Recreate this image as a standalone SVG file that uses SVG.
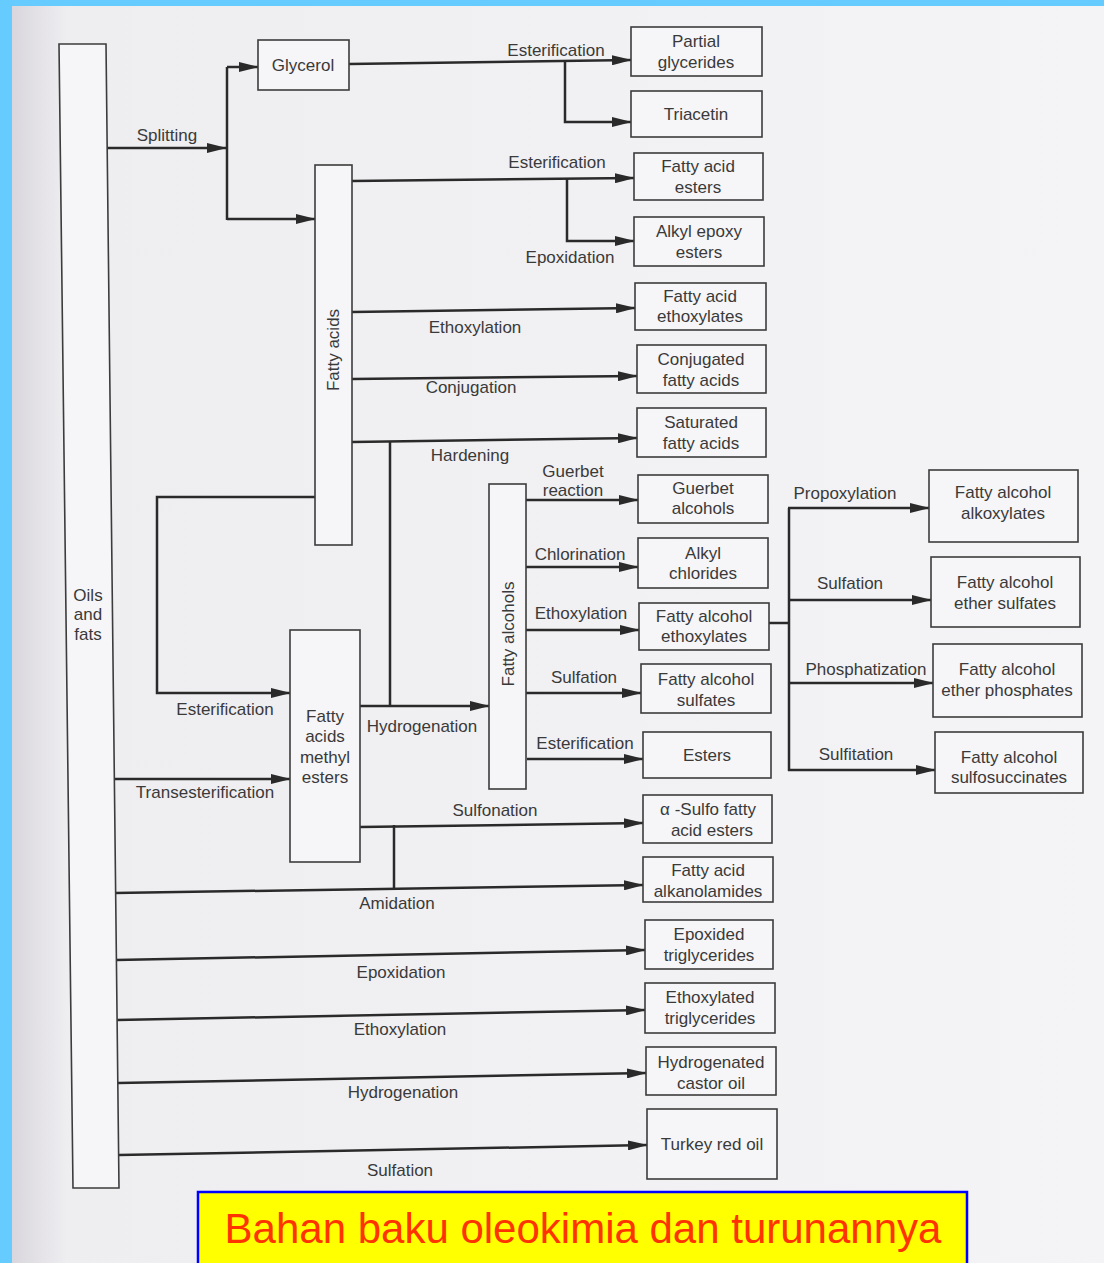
<svg xmlns="http://www.w3.org/2000/svg" width="1104" height="1263" viewBox="0 0 1104 1263">
<defs>
<linearGradient id="pg" x1="0" y1="0" x2="1" y2="0">
<stop offset="0" stop-color="#d9d7dd"/>
<stop offset="0.05" stop-color="#eeedf0"/>
<stop offset="1" stop-color="#f4f3f5"/>
</linearGradient>
<marker id="ah" markerWidth="20" markerHeight="10" refX="19" refY="5" orient="auto" markerUnits="userSpaceOnUse">
<path d="M0,0 L20,5 L0,10 Z" fill="#2a2a2a"/>
</marker>
<style>
.box{fill:#f6f5f7;stroke:#3c3c3c;stroke-width:1.6}
.t{font-family:"Liberation Sans",Arial,sans-serif;font-size:17px;fill:#3a3a3a;text-anchor:middle}
.c{fill:none;stroke:#2a2a2a;stroke-width:2.5}
.a{marker-end:url(#ah)}
</style>
</defs>
<rect x="0" y="0" width="1104" height="1263" fill="#66ccff"/>
<rect x="12" y="6" width="1092" height="1257" fill="url(#pg)"/>

<g id="connectors">
<path class="c a" d="M106,148 H226"/>
<path class="c" d="M227,67 V220"/>
<path class="c a" d="M227,67 H258"/>
<path class="c a" d="M227,219 H315"/>
<path class="c a" d="M349,64 L631,60"/>
<path class="c a" d="M565,61 V122 H631"/>
<path class="c a" d="M352,181 L634,178"/>
<path class="c a" d="M567,178 V241 H634"/>
<path class="c a" d="M352,312 L635,308"/>
<path class="c a" d="M352,379 L637,376"/>
<path class="c a" d="M352,442 L637,438"/>
<path class="c" d="M390,441 V706"/>
<path class="c a" d="M315,497 H157 V693 H290"/>
<path class="c a" d="M113,779 H290"/>
<path class="c a" d="M360,706 H489"/>
<path class="c a" d="M360,827 L643,823"/>
<path class="c" d="M394,825 V888"/>
<path class="c a" d="M115,893 L643,885"/>
<path class="c a" d="M116,960 L645,950"/>
<path class="c a" d="M117,1020 L645,1010"/>
<path class="c a" d="M118,1083 L646,1073"/>
<path class="c a" d="M119,1155 L647,1145"/>
<path class="c a" d="M526,500 H638"/>
<path class="c a" d="M526,567 H638"/>
<path class="c a" d="M526,630 H639"/>
<path class="c a" d="M526,693 H641"/>
<path class="c a" d="M527,759 H643"/>
<path class="c" d="M769,623 H789"/>
<path class="c" d="M789,508 V771"/>
<path class="c a" d="M788,508 H929"/>
<path class="c a" d="M789,600 H931"/>
<path class="c a" d="M789,683 H933"/>
<path class="c a" d="M788,770 H935"/>
<g id="connector-labels">
<text class="t" x="167" y="141">Splitting</text>
<text class="t" x="556" y="56">Esterification</text>
<text class="t" x="557" y="168">Esterification</text>
<text class="t" x="570" y="263">Epoxidation</text>
<text class="t" x="475" y="333">Ethoxylation</text>
<text class="t" x="471" y="393">Conjugation</text>
<text class="t" x="470" y="461">Hardening</text>
<text class="t" x="573" y="477">Guerbet</text>
<text class="t" x="573" y="496">reaction</text>
<text class="t" x="580" y="560">Chlorination</text>
<text class="t" x="581" y="619">Ethoxylation</text>
<text class="t" x="584" y="683">Sulfation</text>
<text class="t" x="585" y="749">Esterification</text>
<text class="t" x="225" y="715">Esterification</text>
<text class="t" x="205" y="798">Transesterification</text>
<text class="t" x="422" y="732">Hydrogenation</text>
<text class="t" x="495" y="816">Sulfonation</text>
<text class="t" x="397" y="909">Amidation</text>
<text class="t" x="401" y="978">Epoxidation</text>
<text class="t" x="400" y="1035">Ethoxylation</text>
<text class="t" x="403" y="1098">Hydrogenation</text>
<text class="t" x="400" y="1176">Sulfation</text>
<text class="t" x="845" y="499">Propoxylation</text>
<text class="t" x="850" y="589">Sulfation</text>
<text class="t" x="866" y="675">Phosphatization</text>
<text class="t" x="856" y="760">Sulfitation</text>
</g>
</g>

<g id="oils-and-fats">
<polygon class="box" points="59,44 106,44 119,1188 73,1188"/>
<text class="t" x="88" y="601">Oils</text>
<text class="t" x="88" y="620">and</text>
<text class="t" x="88" y="640">fats</text>
</g>
<g id="glycerol">
<rect class="box" x="258" y="40" width="91" height="50"/>
<text class="t" x="303" y="71">Glycerol</text>
</g>
<g id="fatty-acids">
<rect class="box" x="315" y="165" width="37" height="380"/>
<text class="t" x="333" y="350" dominant-baseline="central" transform="rotate(-90 333 350)">Fatty acids</text>
</g>
<g id="fatty-alcohols">
<rect class="box" x="489" y="484" width="37" height="305"/>
<text class="t" x="508" y="634" dominant-baseline="central" transform="rotate(-90 508 634)">Fatty alcohols</text>
</g>
<g id="fame">
<rect class="box" x="290" y="630" width="70" height="232"/>
<text class="t" x="325" y="722">Fatty</text>
<text class="t" x="325" y="742">acids</text>
<text class="t" x="325" y="763">methyl</text>
<text class="t" x="325" y="783">esters</text>
</g>

<g id="partial-glycerides"><rect class="box" x="631" y="27" width="131" height="49"/><text class="t" x="696" y="47">Partial</text><text class="t" x="696" y="68">glycerides</text></g>
<g id="triacetin"><rect class="box" x="631" y="91" width="131" height="46"/><text class="t" x="696" y="120">Triacetin</text></g>
<g id="fatty-acid-esters"><rect class="box" x="634" y="153" width="129" height="47"/><text class="t" x="698" y="172">Fatty acid</text><text class="t" x="698" y="193">esters</text></g>
<g id="alkyl-epoxy-esters"><rect class="box" x="634" y="217" width="130" height="49"/><text class="t" x="699" y="237">Alkyl epoxy</text><text class="t" x="699" y="258">esters</text></g>
<g id="fatty-acid-ethoxylates"><rect class="box" x="635" y="283" width="131" height="47"/><text class="t" x="700" y="302">Fatty acid</text><text class="t" x="700" y="322">ethoxylates</text></g>
<g id="conjugated-fatty-acids"><rect class="box" x="637" y="345" width="129" height="48"/><text class="t" x="701" y="365">Conjugated</text><text class="t" x="701" y="386">fatty acids</text></g>
<g id="saturated-fatty-acids"><rect class="box" x="637" y="408" width="129" height="49"/><text class="t" x="701" y="428">Saturated</text><text class="t" x="701" y="449">fatty acids</text></g>
<g id="guerbet-alcohols"><rect class="box" x="638" y="475" width="130" height="48"/><text class="t" x="703" y="494">Guerbet</text><text class="t" x="703" y="514">alcohols</text></g>
<g id="alkyl-chlorides"><rect class="box" x="638" y="538" width="130" height="50"/><text class="t" x="703" y="559">Alkyl</text><text class="t" x="703" y="579">chlorides</text></g>
<g id="fatty-alcohol-ethoxylates"><rect class="box" x="639" y="603" width="130" height="47"/><text class="t" x="704" y="622">Fatty alcohol</text><text class="t" x="704" y="642">ethoxylates</text></g>
<g id="fatty-alcohol-sulfates"><rect class="box" x="641" y="664" width="130" height="49"/><text class="t" x="706" y="685">Fatty alcohol</text><text class="t" x="706" y="706">sulfates</text></g>
<g id="esters"><rect class="box" x="643" y="732" width="128" height="46"/><text class="t" x="707" y="761">Esters</text></g>
<g id="alpha-sulfo"><rect class="box" x="643" y="795" width="129" height="48"/><text class="t" x="708" y="815">α -Sulfo fatty</text><text class="t" x="712" y="836">acid esters</text></g>
<g id="alkanolamides"><rect class="box" x="643" y="857" width="130" height="45"/><text class="t" x="708" y="876">Fatty acid</text><text class="t" x="708" y="897">alkanolamides</text></g>
<g id="epoxided-triglycerides"><rect class="box" x="645" y="920" width="128" height="49"/><text class="t" x="709" y="940">Epoxided</text><text class="t" x="709" y="961">triglycerides</text></g>
<g id="ethoxylated-triglycerides"><rect class="box" x="645" y="983" width="130" height="50"/><text class="t" x="710" y="1003">Ethoxylated</text><text class="t" x="710" y="1024">triglycerides</text></g>
<g id="hydrogenated-castor-oil"><rect class="box" x="646" y="1047" width="130" height="48"/><text class="t" x="711" y="1068">Hydrogenated</text><text class="t" x="711" y="1089">castor oil</text></g>
<g id="turkey-red-oil"><rect class="box" x="647" y="1109" width="130" height="70"/><text class="t" x="712" y="1150">Turkey red oil</text></g>

<g id="fatty-alcohol-alkoxylates"><rect class="box" x="929" y="470" width="149" height="72"/><text class="t" x="1003" y="498">Fatty alcohol</text><text class="t" x="1003" y="519">alkoxylates</text></g>
<g id="fatty-alcohol-ether-sulfates"><rect class="box" x="931" y="557" width="149" height="70"/><text class="t" x="1005" y="588">Fatty alcohol</text><text class="t" x="1005" y="609">ether sulfates</text></g>
<g id="fatty-alcohol-ether-phosphates"><rect class="box" x="933" y="644" width="149" height="73"/><text class="t" x="1007" y="675">Fatty alcohol</text><text class="t" x="1007" y="696">ether phosphates</text></g>
<g id="fatty-alcohol-sulfosuccinates"><rect class="box" x="935" y="732" width="148" height="61"/><text class="t" x="1009" y="763">Fatty alcohol</text><text class="t" x="1009" y="783">sulfosuccinates</text></g>

<g id="caption">
<rect x="198" y="1192" width="769" height="75" fill="#ffff00" stroke="#0000ff" stroke-width="2.5"/>
<text x="583" y="1243" font-family="'Liberation Sans',Arial,sans-serif" font-size="42" fill="#ff3300" text-anchor="middle">Bahan baku oleokimia dan turunannya</text>
</g>
</svg>
